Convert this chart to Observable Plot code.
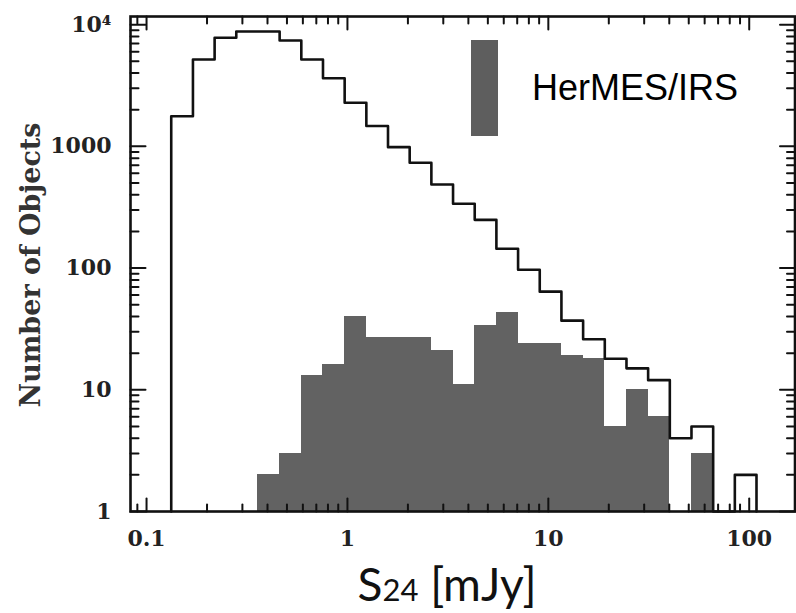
<!DOCTYPE html>
<html><head><meta charset="utf-8">
<script src="https://cdn.jsdelivr.net/npm/d3@7"></script>
<script src="https://cdn.jsdelivr.net/npm/@observablehq/plot@0.6"></script>
<style>body{margin:0;background:#fff;}</style>
</head><body><div id="chart"></div>
<script>
// Bin edges (S24, mJy), log-spaced
const binEdges = [0.1327, 0.1702, 0.2182, 0.2797, 0.3585, 0.4597, 0.5894, 0.7556, 0.9687, 1.242, 1.592, 2.041, 2.617, 3.355, 4.301, 5.514, 7.070, 9.063, 11.62, 14.90, 19.10, 24.49, 31.39, 40.25, 51.59, 66.15, 84.80, 108.7];
// All 24um sources (outline histogram)
const allCounts = [1770, 5180, 7800, 8790, 8790, 7410, 5180, 3630, 2280, 1470, 985, 733, 486, 338, 249, 144, 97, 64, 37, 26, 18, 15, 12, 4, 5, 0, 2];
// HerMES/IRS sample (filled histogram)
const irsCounts = [0, 0, 0, 0, 2, 3, 13, 16, 40, 27, 27, 27, 21, 11, 34, 43, 24, 24, 19, 18, 5, 10, 6, 0, 3, 0, 0];

const xMajorTicks = [0.1, 1, 10, 100];
const xMajorLabels = ["0.1", "1", "10", "100"];
const xMinorTicks = [0.09, 0.2, 0.3, 0.4, 0.5, 0.6, 0.7, 0.8, 0.9, 2, 3, 4, 5, 6, 7, 8, 9, 20, 30, 40, 50, 60, 70, 80, 90];
const yMajorTicks = [1, 10, 100, 1000, 10000];
const yMajorLabels = ["1", "10", "100", "1000", "10\u2074"];
const yMinorTicks = [2, 3, 4, 5, 6, 7, 8, 9, 20, 30, 40, 50, 60, 70, 80, 90, 200, 300, 400, 500, 600, 700, 800, 900, 2000, 3000, 4000, 5000, 6000, 7000, 8000, 9000];
const legendLabel = "HerMES/IRS";
const xTitleParts = ["S", "24", " [mJy]"];
const yTitle = "Number of Objects";

const bins = allCounts.map((c, i) => ({lo: binEdges[i], hi: binEdges[i + 1], all: c, irs: irsCounts[i]}));
const n = bins.length;
const outline = [{x: binEdges[0], y: 1}]
  .concat(bins.map(b => ({x: b.lo, y: Math.max(b.all, 1)})))
  .concat([{x: binEdges[n], y: Math.max(bins[n - 1].all, 1)}, {x: binEdges[n], y: 1}]);

const xFmt = d => xMajorLabels[xMajorTicks.indexOf(d)];
const yFmt = d => yMajorLabels[yMajorTicks.indexOf(d)];
const tickFont = {fontFamily: "DejaVu Serif", fontSize: 22, fontWeight: "bold", fill: "#222"};

// straight tick line, drawn from the frame edge inward
const tickShape = {draw(context, l) { context.moveTo(0, 0); context.lineTo(0, -l); }};
const tick = (data, ch, side, len) => Plot.vector(data, {
  [ch]: d => d, frameAnchor: side, length: len, anchor: "start",
  rotate: {bottom: 0, top: 180, left: 90, right: 270}[side],
  shape: tickShape, stroke: "#111", strokeWidth: 2
});

const plot = Plot.plot({
  width: 796, height: 613,
  marginTop: 16, marginBottom: 102, marginLeft: 130, marginRight: 1.5,
  style: {fontFamily: "DejaVu Serif", fontSize: "22px", color: "#111", background: "#fff"},
  x: {type: "log", domain: [0.0832, 169]},
  y: {type: "log", domain: [1, 11670]},
  marks: [
    Plot.rect(bins.filter(b => b.irs > 0), {x1: "lo", x2: "hi", y1: 1, y2: "irs", fill: "#626262", shapeRendering: "crispEdges"}),
    Plot.line(outline, {x: "x", y: "y", curve: "step-after", stroke: "#111", strokeWidth: 2.6}),
    Plot.frame({stroke: "#111", strokeWidth: 2.6}),
    // inward ticks on all four sides
    tick(xMajorTicks, "x", "bottom", 13),
    tick(xMinorTicks, "x", "bottom", 7),
    tick(xMajorTicks, "x", "top", 13),
    tick(xMinorTicks, "x", "top", 7),
    tick(yMajorTicks, "y", "left", 15),
    tick(yMinorTicks, "y", "left", 8),
    tick(yMajorTicks, "y", "right", 15),
    tick(yMinorTicks, "y", "right", 8),
    // tick labels
    Plot.axisX(xMajorTicks, {anchor: "bottom", tickSize: 0, tickPadding: 19, tickFormat: xFmt, label: null, ...tickFont}),
    Plot.axisY(yMajorTicks, {anchor: "left", tickSize: 0, tickPadding: 19, tickFormat: yFmt, label: null, ...tickFont})
  ]
});
document.getElementById("chart").appendChild(plot);

const svg = d3.select(plot);
// y title
svg.append("text")
  .attr("transform", "translate(40,265) rotate(-90)")
  .attr("text-anchor", "middle")
  .attr("font-family", "DejaVu Serif")
  .attr("font-weight", "bold")
  .attr("font-size", 27)
  .attr("fill", "#333")
  .text(yTitle);
// x title
const xt = svg.append("text")
  .attr("x", 447).attr("y", 601)
  .attr("text-anchor", "middle")
  .attr("font-family", "Lato")
  .attr("font-size", 46)
  .attr("fill", "#111");
xt.append("tspan").text(xTitleParts[0]);
xt.append("tspan").attr("font-size", 31).text(xTitleParts[1]);
xt.append("tspan").text(xTitleParts[2]);
// legend
svg.append("rect").attr("x", 471).attr("y", 40).attr("width", 27).attr("height", 96).attr("fill", "#5e5e5e");
svg.append("text").attr("x", 532).attr("y", 100)
  .attr("text-anchor", "start")
  .attr("font-family", "Liberation Sans").attr("font-size", 36).attr("fill", "#000")
  .text(legendLabel);
</script>
</body></html>
